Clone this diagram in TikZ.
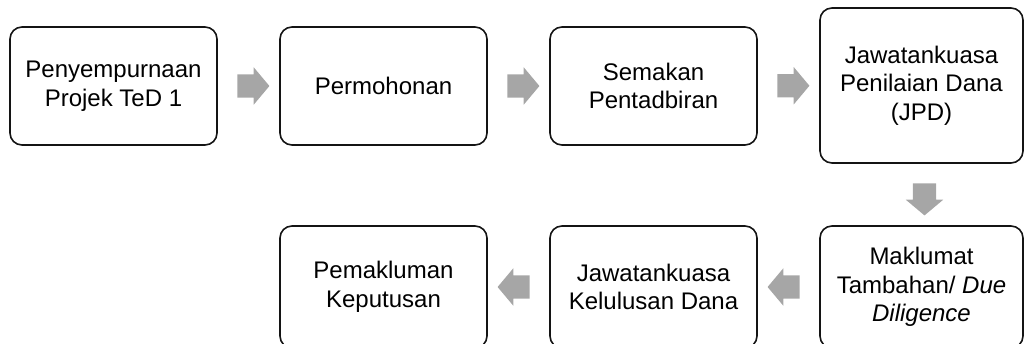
\documentclass[tikz,border=0pt]{standalone}
\usepackage{fontspec}
\setmainfont{Liberation Sans}
\usetikzlibrary{shapes.arrows,calc}
\definecolor{arrowgray}{RGB}{166,166,166}
\definecolor{boxline}{RGB}{20,20,20}
\tikzset{
  stepbox/.style={draw=boxline, line width=1.6pt, rounded corners=12pt, fill=white,
    align=center, inner sep=0pt, text=black, font=\fontsize{24}{28.5}\selectfont},
  blockarrow/.style={single arrow, fill=arrowgray, draw=none, inner xsep=0pt, inner ysep=11.5pt,
    minimum height=32pt, minimum width=37pt, single arrow head extend=7pt,
    single arrow tip angle=100}
}
\begin{document}
\begin{tikzpicture}[x=1pt,y=-1pt]
\useasboundingbox (0,0) rectangle (1024,343);
\clip (0,0) rectangle (1024,343);
\node[stepbox, minimum width=207pt, minimum height=118pt] (b1) at (113.5,86) {Penyempurnaan\\Projek TeD 1};
\node[stepbox, minimum width=207pt, minimum height=118pt] (b2) at (383.5,86) {Permohonan};
\node[stepbox, minimum width=207pt, minimum height=118pt] (b3) at (653.5,86) {Semakan\\Pentadbiran};
\node[stepbox, minimum width=203pt, minimum height=155pt] (b4) at (921.5,85.5) {Jawatankuasa\\Penilaian Dana\\(JPD)};
\node[stepbox, minimum width=203pt, minimum height=122pt] (b5) at (921.5,287) {Maklumat\\Tambahan/ \textit{Due}\\\textit{Diligence}};
\node[stepbox, minimum width=207pt, minimum height=122pt] (b6) at (653.5,287) {Jawatankuasa\\Kelulusan Dana};
\node[stepbox, minimum width=207pt, minimum height=122pt] (b7) at (383.5,287) {Pemakluman\\Keputusan};
\node[blockarrow] (a12) at ($(b1.east)!0.5!(b2.west)$) {};
\node[blockarrow] (a23) at ($(b2.east)!0.5!(b3.west)$) {};
\node[blockarrow] (a34) at ($(b3.east)!0.5!(b4.west)$) {};
\node[blockarrow, rotate=-90] (a45) at ($(b4.south)!0.5!(b5.north)+(3,0)$) {};
\node[blockarrow, rotate=180] (a56) at ($(b5.west)!0.5!(b6.east)$) {};
\node[blockarrow, rotate=180] (a67) at ($(b6.west)!0.5!(b7.east)$) {};
\end{tikzpicture}
\end{document}
